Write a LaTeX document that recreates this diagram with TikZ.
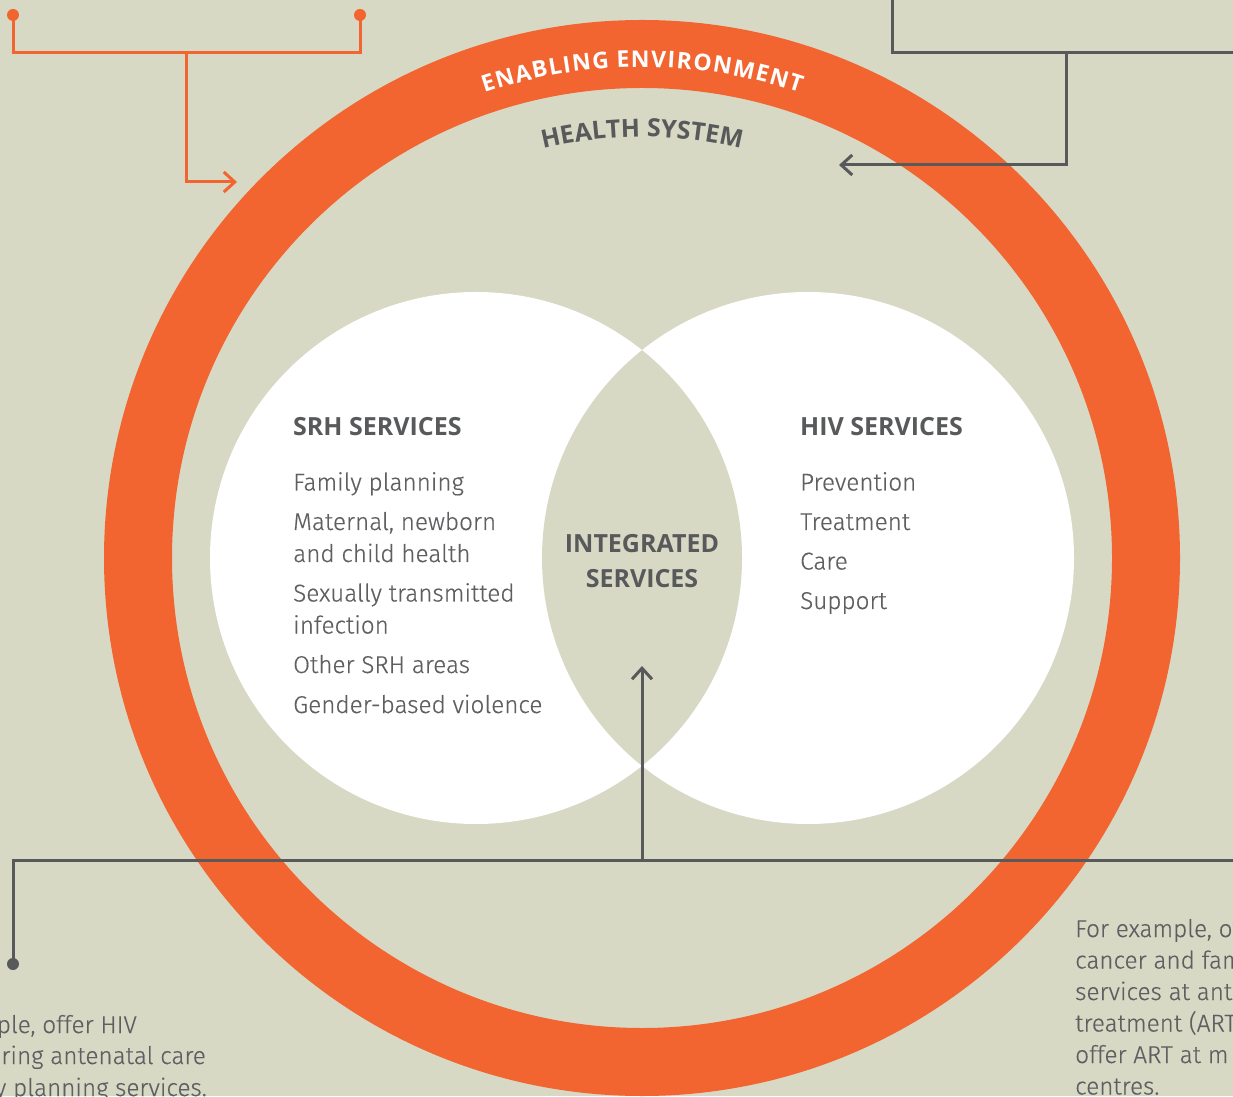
\documentclass[tikz,border=0pt]{standalone}
\usepackage{fontspec}
\setmainfont{Open Sans}
\newfontfamily\lightfont[FakeBold=0.4]{Fira Sans Light}
\usetikzlibrary{arrows.meta,decorations.text}
\definecolor{bgc}{HTML}{D8D9C4}
\definecolor{orng}{HTML}{F26531}
\definecolor{gry}{HTML}{58595B}
\definecolor{txtg}{HTML}{5E5F61}
\begin{document}
\begin{tikzpicture}[x=1pt,y=1pt,
  hdr/.style={inner sep=0pt, text=gry, font=\fontsize{25}{30}\selectfont\bfseries},
  body/.style={inner sep=0pt, text=txtg, font=\lightfont\fontsize{24.3}{32}\selectfont},
  oline/.style={draw=orng, line width=3pt},
  gline/.style={draw=gry, line width=3pt},
  chev/.style={-{Straight Barb[length=11pt,width=20pt]}},
]
\useasboundingbox (0,0) rectangle (1233,1096);
\fill[bgc] (0,0) rectangle (1233,1096);
\clip (0,0) rectangle (1233,1096);
% ring
\fill[orng, even odd rule] (642,538) circle[radius=538] (642,538) circle[radius=470];
% venn
\fill[white] (476,538) circle[radius=266];
\fill[white] (808,538) circle[radius=266];
\begin{scope}
  \clip (476,538) circle[radius=266];
  \fill[bgc] (808,538) circle[radius=266];
\end{scope}
% curved texts
\path[decorate, decoration={text along path, text align=center,
  text={|\fontsize{23}{23}\selectfont\bfseries\color{white}|{E\kern1.3pt}{N\kern1.3pt}{A\kern1.3pt}{B\kern1.3pt}{L\kern1.3pt}{I\kern1.3pt}{N\kern1.3pt}{G\kern1.3pt} {E\kern1.3pt}{N\kern1.3pt}{V\kern1.3pt}{I\kern1.3pt}{R\kern1.3pt}{O\kern1.3pt}{N\kern1.3pt}{M\kern1.3pt}{E\kern1.3pt}{N\kern1.3pt}T}}]
  (642,538) ++(130:491) arc[start angle=130, end angle=50, radius=491];
\path[decorate, decoration={text along path, text align=center,
  text={|\fontsize{25}{25}\selectfont\bfseries\color{gry}|HEALTH SYSTEM}}]
  (642,538) ++(130:421) arc[start angle=130, end angle=50, radius=421];
% SRH
\node[hdr, anchor=base west] (srh) at (293,660) {SRH SERVICES};
\node[body, anchor=base west] (s1) at (293,605.5) {Family planning};
\node[body, anchor=base west] (s2a) at (293,566) {Maternal, newborn};
\node[body, anchor=base west] (s2b) at (293,534) {and child health};
\node[body, anchor=base west] (s3a) at (293,494.5) {Sexually transmitted};
\node[body, anchor=base west] (s3b) at (293,462.5) {infection};
\node[body, anchor=base west] (s4) at (293,423) {Other SRH areas};
\node[body, anchor=base west] (s5) at (293,383) {Gender-based violence};
% HIV
\node[hdr, anchor=base west] (hiv) at (800,660) {HIV SERVICES};
\node[body, anchor=base west] (h1) at (800,605.5) {Prevention};
\node[body, anchor=base west] (h2) at (800,566) {Treatment};
\node[body, anchor=base west] (h3) at (800,526.5) {Care};
\node[body, anchor=base west] (h4) at (800,487) {Support};
% integrated
\node[hdr, anchor=base] (int1) at (642,543) {INTEGRATED};
\node[hdr, anchor=base] (int2) at (642,508) {SERVICES};
% bottom texts
\node[body, anchor=base east] (l1) at (137,63) {ple, offer HIV};
\node[body, anchor=base east] (l2) at (206,32) {ring antenatal care};
\node[body, anchor=base east] (l3) at (207,0) {y planning services.};
\node[body, anchor=base west] (r1) at (1075,159) {For example, of};
\node[body, anchor=base west] (r2) at (1075,127.5) {cancer and fam};
\node[body, anchor=base west] (r3) at (1075,96) {services at ant};
\node[body, anchor=base west] (r4) at (1075,64.5) {treatment (ART};
\node[body, anchor=base west] (r5) at (1075,33) {offer ART at m};
\node[body, anchor=base west] (r6) at (1075,1.5) {centres.};
% orange connector
\coordinate (od1) at (13,1081);
\coordinate (od2) at (360,1081);
\coordinate (oc1) at (13,1043);
\coordinate (oc2) at (360,1043);
\coordinate (om) at (186,1043);
\coordinate (ob) at (186,914);
\coordinate (oe) at (237,914);
\fill[orng] (od1) circle[radius=6];
\fill[orng] (od2) circle[radius=6];
\draw[oline] (od1) -- (oc1) -- (oc2) -- (od2);
\draw[oline, chev] (om) -- (ob) -- (oe);
% grey top right
\coordinate (g1) at (892,1100);
\coordinate (g2) at (892,1043);
\coordinate (g3) at (1240,1043);
\coordinate (gm) at (1066,1043);
\coordinate (gb) at (1066,931);
\coordinate (ge) at (839,931);
\draw[gline] (g1) -- (g2) -- (g3);
\draw[gline, chev] (gm) -- (gb) -- (ge);
% bottom connector
\coordinate (bd) at (13,132);
\coordinate (b1) at (13,236);
\coordinate (b2) at (1240,236);
\coordinate (bm) at (642,236);
\coordinate (bt) at (642,430);
\fill[gry] (bd) circle[radius=6];
\draw[gline] (bd) -- (b1) -- (b2);
\draw[gline, chev] (bm) -- (bt);
\end{tikzpicture}
\end{document}
